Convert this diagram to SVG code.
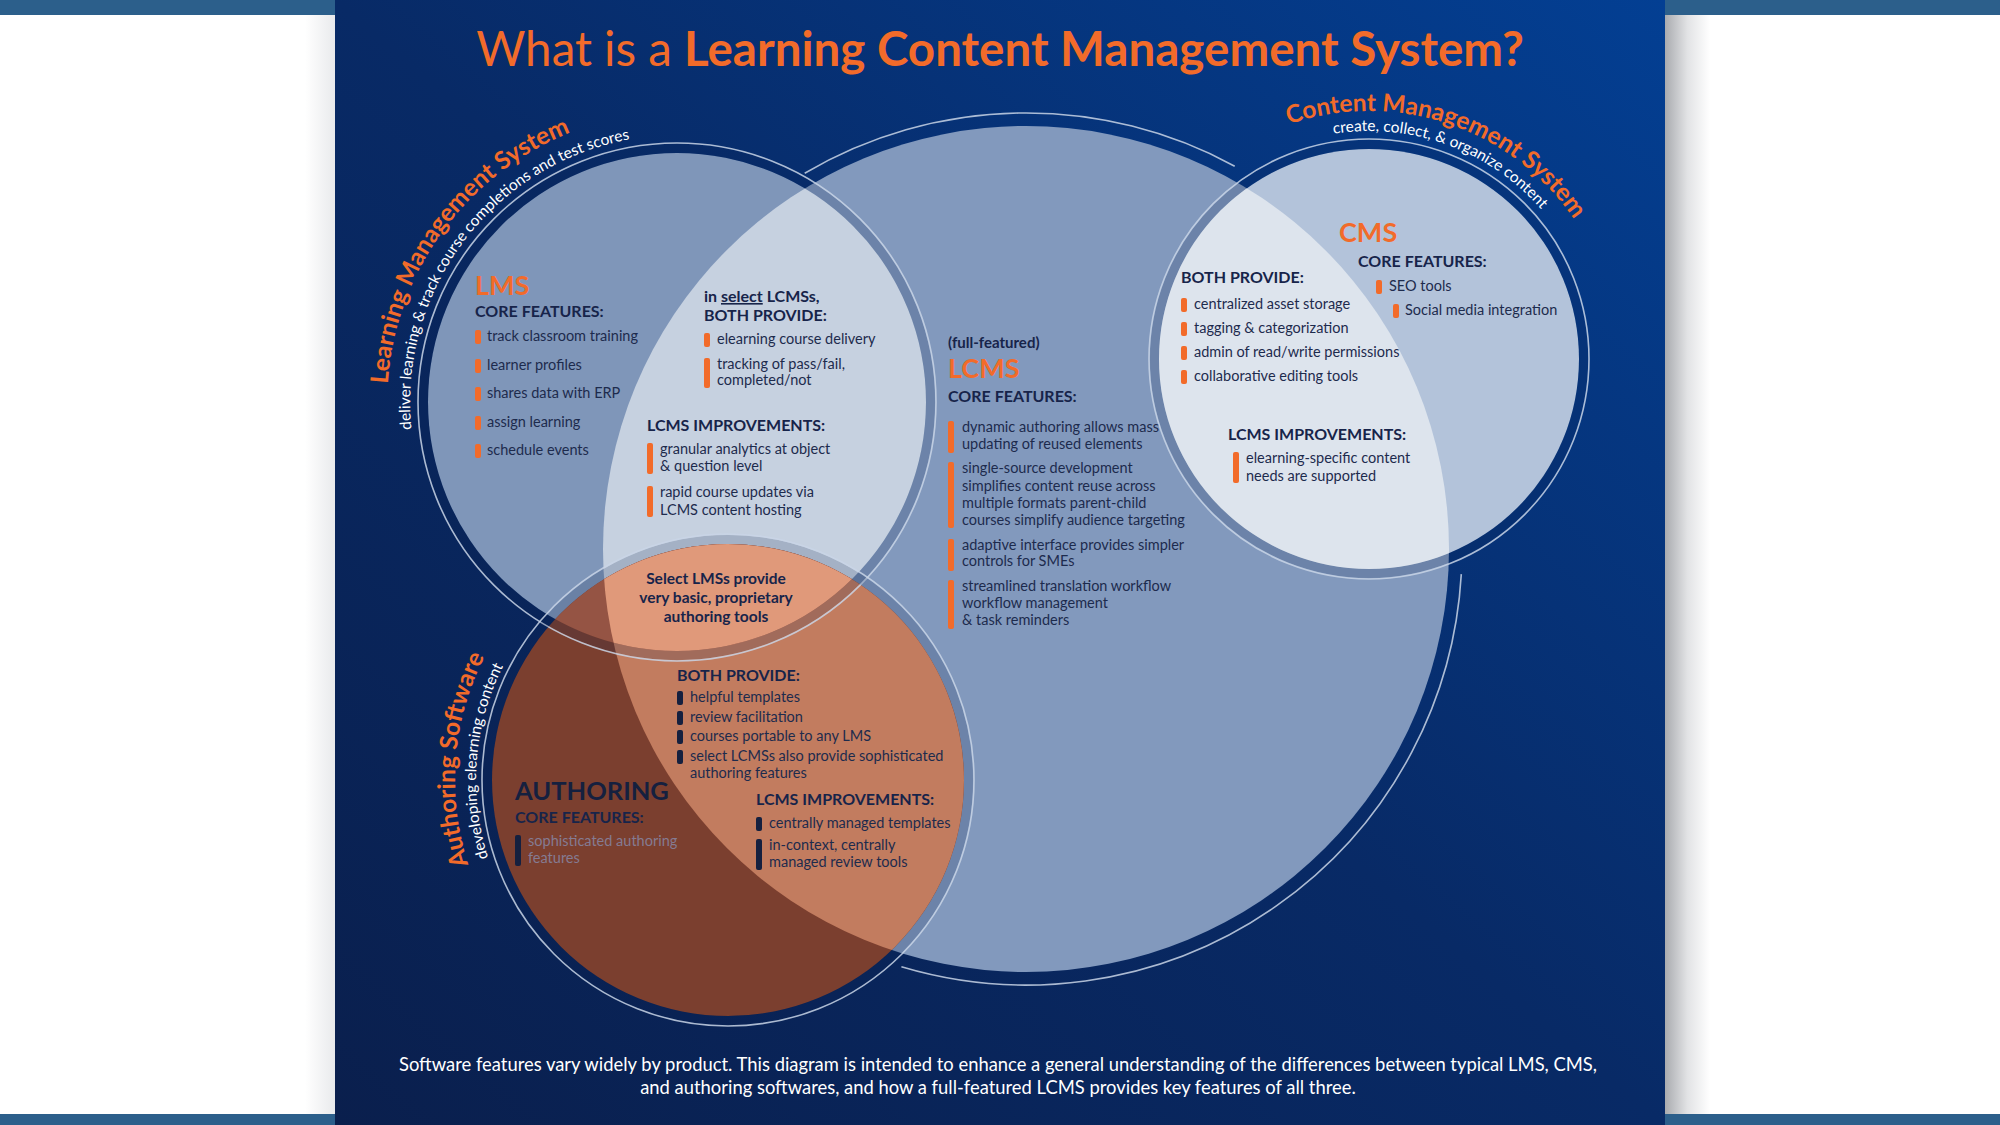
<svg xmlns="http://www.w3.org/2000/svg" width="2000" height="1125" viewBox="0 0 2000 1125">
<defs>
<linearGradient id="panelG" x1="0" y1="1" x2="1" y2="0">
<stop offset="0" stop-color="#0a1f4d"/>
<stop offset="0.5" stop-color="#082a66"/>
<stop offset="1" stop-color="#033f93"/>
</linearGradient>
<linearGradient id="shadowR" x1="0" y1="0" x2="1" y2="0">
<stop offset="0" stop-color="#a9abaf"/>
<stop offset="0.5" stop-color="#e2e3e5"/>
<stop offset="1" stop-color="#ffffff"/>
</linearGradient>
<linearGradient id="shadowL" x1="1" y1="0" x2="0" y2="0">
<stop offset="0" stop-color="#e9eaec"/>
<stop offset="1" stop-color="#ffffff"/>
</linearGradient>
<clipPath id="cLMS"><circle cx="677" cy="402" r="249"/></clipPath>
<clipPath id="cLCMS"><circle cx="1026" cy="549" r="423"/></clipPath>
<clipPath id="cCMS"><circle cx="1369" cy="359" r="210"/></clipPath>
<clipPath id="cAUTH"><circle cx="728" cy="780" r="236"/></clipPath>
<path id="pLmsO" d="M454.9 588.4 A290 290 0 0 1 822 150.9"/>
<path id="pLmsW" d="M472.5 573.6 A267 267 0 0 1 810.5 170.8"/>
<path id="pCmsO" d="M1179 199.6 A248 248 0 0 1 1617 359"/>
<path id="pCmsW" d="M1194.4 212.4 A228 228 0 0 1 1597 359"/>
<path id="pAuO" d="M552.5 989.1 A273 273 0 0 1 591.5 543.6"/>
<path id="pAuW" d="M566 973 A252 252 0 0 1 602 561.8"/>
<style>
text{font-family:Lato,"Open Sans","Liberation Sans",sans-serif}
.title{font-size:47.5px;fill:#f26b2a}
.h{font-size:16px;font-weight:700;fill:#17244a}
.b{font-size:14.5px;font-weight:400;fill:#1d2b4d}
.big{font-size:27px;font-weight:700;fill:#f26b2a}
.bar{fill:#f26b2a}
.nbar{fill:#15203f}
.arcO{font-size:24.5px;font-weight:700;fill:#f26b2a}
.arcW{font-size:15.5px;font-weight:400;fill:#ffffff}
.band{fill:none;stroke:#0a2150;stroke-opacity:0.18;stroke-width:9}
.line{fill:none;stroke:#c9d5e6;stroke-width:1.6;stroke-opacity:0.85}
.foot{font-size:18.4px;fill:#ffffff}
.sel{font-size:15.5px}
.auth{font-size:25.5px;fill:#15203f}
.muted{fill:#857b92}
</style>
</defs>

<!-- page background -->
<rect x="0" y="0" width="2000" height="1125" fill="#ffffff"/>
<rect x="0" y="0" width="2000" height="15" fill="#2c5f8b"/>
<rect x="0" y="1114" width="2000" height="11" fill="#2c5f8b"/>
<rect x="1665" y="15" width="45" height="1099" fill="url(#shadowR)"/>
<rect x="305" y="15" width="30" height="1099" fill="url(#shadowL)"/>
<rect x="335" y="0" width="1330" height="1125" fill="url(#panelG)"/>

<!-- title -->
<text class="title" x="1000" y="66" text-anchor="middle"><tspan font-weight="400">What is a </tspan><tspan font-weight="700">Learning Content Management System?</tspan></text>

<!-- circle fills -->
<g id="venn">
<circle cx="1026" cy="549" r="423" fill="#8299bd"/>
<circle cx="677" cy="402" r="249" fill="#7f96b9"/>
<circle cx="1026" cy="549" r="423" fill="#c6d1e0" clip-path="url(#cLMS)"/>
<circle cx="1369" cy="359" r="210" fill="#b3c3da"/>
<circle cx="1026" cy="549" r="423" fill="#dde4ed" clip-path="url(#cCMS)"/>
<circle cx="728" cy="780" r="236" fill="#7b3f2f"/>
<circle cx="1026" cy="549" r="423" fill="#c27c5f" clip-path="url(#cAUTH)"/>
<circle cx="677" cy="402" r="249" fill="#955444" clip-path="url(#cAUTH)"/>
<g clip-path="url(#cAUTH)"><circle cx="677" cy="402" r="249" fill="#e0997a" clip-path="url(#cLCMS)"/></g>
</g>

<!-- rings -->
<g id="connectors">
<circle class="band" cx="677" cy="402" r="253.5"/>
<circle class="line" cx="677" cy="402" r="259"/>
<circle class="band" cx="1369" cy="359" r="214.5"/>
<circle class="line" cx="1369" cy="359" r="220"/>
<circle class="band" cx="728" cy="780" r="240.5"/>
<circle class="line" cx="728" cy="780" r="246"/>
<path class="line" d="M804.7 173.3 A436 436 0 0 1 1234.7 166.2"/>
<path class="line" d="M1461.3 574.1 A436 436 0 0 1 901.4 966.8"/>
</g>

<!-- arc labels -->
<g id="arc-labels">
<text class="arcO"><textPath href="#pLmsO" startOffset="47.5%" text-anchor="middle">Learning Management System</textPath></text>
<text class="arcW"><textPath href="#pLmsW" startOffset="48.1%" text-anchor="middle">deliver learning &amp; track course completions and test scores</textPath></text>
<text class="arcO"><textPath href="#pCmsO" startOffset="48.9%" text-anchor="middle">Content Management System</textPath></text>
<text class="arcW"><textPath href="#pCmsW" startOffset="50%" text-anchor="middle">create, collect, &amp; organize content</textPath></text>
<text class="arcO"><textPath href="#pAuO" startOffset="49.5%" text-anchor="middle">Authoring Software</textPath></text>
<text class="arcW"><textPath href="#pAuW" startOffset="49.5%" text-anchor="middle">developing elearning content</textPath></text>
</g>

<!-- LMS -->
<g id="lms">
<text class="big" x="475" y="295">LMS</text>
<text class="h" x="475" y="317">CORE FEATURES:</text>
<rect class="bar" x="475" y="330" width="6" height="14" rx="2"/>
<text class="b" x="487" y="341">track classroom training</text>
<rect class="bar" x="475" y="359" width="6" height="14" rx="2"/>
<text class="b" x="487" y="370">learner profiles</text>
<rect class="bar" x="475" y="387" width="6" height="14" rx="2"/>
<text class="b" x="487" y="398">shares data with ERP</text>
<rect class="bar" x="475" y="416" width="6" height="14" rx="2"/>
<text class="b" x="487" y="427">assign learning</text>
<rect class="bar" x="475" y="444" width="6" height="14" rx="2"/>
<text class="b" x="487" y="455">schedule events</text>
</g>

<!-- LMS + LCMS -->
<g id="lms-lcms">
<text class="h" x="704" y="302">in <tspan text-decoration="underline">select</tspan> LCMSs,</text>
<text class="h" x="704" y="321">BOTH PROVIDE:</text>
<rect class="bar" x="704" y="333" width="6" height="14" rx="2"/>
<text class="b" x="717" y="344">elearning course delivery</text>
<rect class="bar" x="704" y="358" width="6" height="30" rx="2"/>
<text class="b" x="717" y="369">tracking of pass/fail,</text>
<text class="b" x="717" y="385">completed/not</text>
<text class="h" x="647" y="431">LCMS IMPROVEMENTS:</text>
<rect class="bar" x="647" y="443" width="6" height="31" rx="2"/>
<text class="b" x="660" y="454">granular analytics at object</text>
<text class="b" x="660" y="471">&amp; question level</text>
<rect class="bar" x="647" y="486" width="6" height="31" rx="2"/>
<text class="b" x="660" y="497">rapid course updates via</text>
<text class="b" x="660" y="515">LCMS content hosting</text>
</g>

<!-- LCMS -->
<g id="lcms">
<text class="h" x="948" y="348" style="font-size:15px">(full-featured)</text>
<text class="big" x="948" y="378">LCMS</text>
<text class="h" x="948" y="402">CORE FEATURES:</text>
<rect class="bar" x="948" y="421" width="6" height="32" rx="2"/>
<text class="b" x="962" y="432">dynamic authoring allows mass</text>
<text class="b" x="962" y="449">updating of reused elements</text>
<rect class="bar" x="948" y="462" width="6" height="66" rx="2"/>
<text class="b" x="962" y="473">single-source development</text>
<text class="b" x="962" y="491">simplifies content reuse across</text>
<text class="b" x="962" y="508">multiple formats parent-child</text>
<text class="b" x="962" y="525">courses simplify audience targeting</text>
<rect class="bar" x="948" y="539" width="6" height="32" rx="2"/>
<text class="b" x="962" y="550">adaptive interface provides simpler</text>
<text class="b" x="962" y="566">controls for SMEs</text>
<rect class="bar" x="948" y="580" width="6" height="49" rx="2"/>
<text class="b" x="962" y="591">streamlined translation workflow</text>
<text class="b" x="962" y="608">workflow management</text>
<text class="b" x="962" y="625">&amp; task reminders</text>
</g>

<!-- CMS -->
<g id="cms">
<text class="big" x="1339" y="242">CMS</text>
<text class="h" x="1358" y="267">CORE FEATURES:</text>
<rect class="bar" x="1376" y="280" width="6" height="14" rx="2"/>
<text class="b" x="1389" y="291">SEO tools</text>
<rect class="bar" x="1393" y="304" width="6" height="14" rx="2"/>
<text class="b" x="1405" y="315">Social media integration</text>
</g>

<!-- CMS + LCMS -->
<g id="cms-lcms">
<text class="h" x="1181" y="283">BOTH PROVIDE:</text>
<rect class="bar" x="1181" y="298" width="6" height="14" rx="2"/>
<text class="b" x="1194" y="309">centralized asset storage</text>
<rect class="bar" x="1181" y="322" width="6" height="14" rx="2"/>
<text class="b" x="1194" y="333">tagging &amp; categorization</text>
<rect class="bar" x="1181" y="346" width="6" height="14" rx="2"/>
<text class="b" x="1194" y="357">admin of read/write permissions</text>
<rect class="bar" x="1181" y="370" width="6" height="14" rx="2"/>
<text class="b" x="1194" y="381">collaborative editing tools</text>
<text class="h" x="1228" y="440">LCMS IMPROVEMENTS:</text>
<rect class="bar" x="1233" y="452" width="6" height="31" rx="2"/>
<text class="b" x="1246" y="463">elearning-specific content</text>
<text class="b" x="1246" y="481">needs are supported</text>
</g>

<!-- Authoring + LMS -->
<g id="auth-lms">
<text class="h sel" x="716" y="584" text-anchor="middle">Select LMSs provide</text>
<text class="h sel" x="716" y="603" text-anchor="middle">very basic, proprietary</text>
<text class="h sel" x="716" y="622" text-anchor="middle">authoring tools</text>
</g>

<!-- Authoring + LCMS -->
<g id="auth-lcms">
<text class="h" x="677" y="681">BOTH PROVIDE:</text>
<rect class="nbar" x="677" y="691" width="6" height="14" rx="2"/>
<text class="b" x="690" y="702">helpful templates</text>
<rect class="nbar" x="677" y="711" width="6" height="14" rx="2"/>
<text class="b" x="690" y="722">review facilitation</text>
<rect class="nbar" x="677" y="730" width="6" height="14" rx="2"/>
<text class="b" x="690" y="741">courses portable to any LMS</text>
<rect class="nbar" x="677" y="750" width="6" height="14" rx="2"/>
<text class="b" x="690" y="761">select LCMSs also provide sophisticated</text>
<text class="b" x="690" y="778">authoring features</text>
<text class="h" x="756" y="805">LCMS IMPROVEMENTS:</text>
<rect class="nbar" x="756" y="817" width="6" height="14" rx="2"/>
<text class="b" x="769" y="828">centrally managed templates</text>
<rect class="nbar" x="756" y="839" width="6" height="31" rx="2"/>
<text class="b" x="769" y="850">in-context, centrally</text>
<text class="b" x="769" y="867">managed review tools</text>
</g>

<!-- Authoring -->
<g id="authoring">
<text class="h auth" x="515" y="800">AUTHORING</text>
<text class="h" x="515" y="823">CORE FEATURES:</text>
<rect class="nbar" x="515" y="835" width="6" height="31" rx="2"/>
<text class="b muted" x="528" y="846">sophisticated authoring</text>
<text class="b muted" x="528" y="863">features</text>
</g>

<!-- footer -->
<g id="footer">
<text class="foot" x="998" y="1071" text-anchor="middle">Software features vary widely by product. This diagram is intended to enhance a general understanding of the differences between typical LMS, CMS,</text>
<text class="foot" x="998" y="1094" text-anchor="middle">and authoring softwares, and how a full-featured LCMS provides key features of all three.</text>
</g>
</svg>
